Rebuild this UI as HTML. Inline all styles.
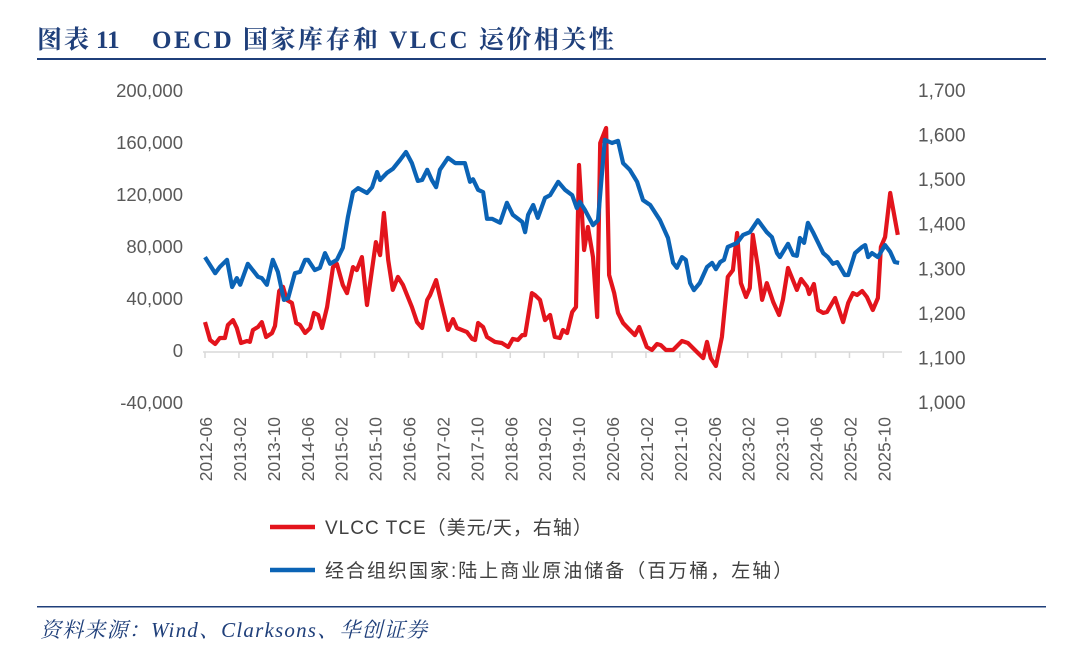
<!DOCTYPE html>
<html><head><meta charset="utf-8">
<style>
body{margin:0;background:#fff;width:1080px;height:658px;overflow:hidden;}
svg{display:block;}
</style></head>
<body>
<svg id="chart" width="1080" height="658" viewBox="0 0 1080 658">
<text y="48" font-family="'Liberation Serif','Noto Serif CJK SC',serif" font-weight="bold" font-size="25" fill="#1F3F7A"><tspan x="37" letter-spacing="2">图表</tspan><tspan x="96">11</tspan><tspan x="152" letter-spacing="2.5">OECD 国家库存和 VLCC 运价相关性</tspan></text>
<rect x="37" y="58" width="1009" height="2" fill="#1F3F7A"/>
<rect x="37" y="606" width="1009" height="1.5" fill="#1F3F7A"/>
<text x="40" y="637" font-family="'Liberation Serif','Noto Serif CJK SC',serif" font-style="italic" font-size="21" letter-spacing="1.2" fill="#1F3F7A">资料来源：Wind、Clarksons、华创证券</text>
<g id="axes"></g>
<g id="series"></g>
<g id="legend">
<line x1="270" y1="527" x2="315" y2="527" stroke="#E3141C" stroke-width="4.5"/>
<text x="325" y="534" font-family="'Liberation Sans','Noto Sans CJK SC',sans-serif" font-size="19" letter-spacing="1" fill="#404040">VLCC TCE（美元/天，右轴）</text>
<line x1="270" y1="570" x2="315" y2="570" stroke="#0B63B5" stroke-width="4.5"/>
<text x="325" y="577" font-family="'Liberation Sans','Noto Sans CJK SC',sans-serif" font-size="19" letter-spacing="2" fill="#404040">经合组织国家:陆上商业原油储备（百万桶，左轴）</text>
</g>
</svg>
<script>
const xTickLabels=["2012-06","2013-02","2013-10","2014-06","2015-02","2015-10","2016-06","2017-02","2017-10","2018-06","2019-02","2019-10","2020-06","2021-02","2021-10","2022-06","2023-02","2023-10","2024-06","2025-02","2025-10"];
const leftTicks=[200000,160000,120000,80000,40000,0,-40000];
const rightTicks=[1700,1600,1500,1400,1300,1200,1100,1000];
// months since 2012-06
const redMonths=[0,1.2,2.4,3.5,4.7,5.4,6.6,7.5,8.5,9.9,10.6,11.3,12.5,13.4,14.4,15.8,16.5,17.5,18.4,19.3,20.5,21.5,22.4,23.6,24.8,25.7,26.7,27.6,28.8,30.2,31.1,32.5,33.5,34.9,35.8,37,38.2,40.3,41.3,42.2,43.2,44.3,45.5,46.7,48.8,50,51.2,52.4,53.1,54.5,55.7,57.3,58.5,59.4,61.8,63,63.7,64.4,65.6,66.5,68.4,70,71.5,72.6,73.8,74.8,75.5,77.1,77.8,79,80.2,81.4,82.5,83.7,84.4,85.4,86.6,87.5,88.2,89.4,90.3,91.5,92.5,93.2,94.6,95.3,96.5,97.4,98.6,100.2,101.4,102.4,104.2,105.4,106.6,107.5,108.7,110.4,112.5,113.9,116,117.5,118.4,119.3,120.5,121.9,123.3,124.5,125.5,126.4,127.6,128.5,129.2,130.4,131.4,132.5,134,135.4,136.3,137.5,139.6,140.6,142,142.5,143.6,144.6,145.8,146.7,148.6,150.5,151.7,152.8,153.8,155,156.1,157.5,158.7,159.4,160.4,161.6,163.4];
const redValues=[21500,7700,4600,9200,9200,19200,23000,17000,5400,6900,6200,15400,17700,21500,10000,13000,18500,45400,48500,38500,36200,20800,19200,13100,16900,28500,26900,16900,33100,63800,66200,50000,43800,63800,61500,71500,34600,83000,73000,105400,69200,46200,56200,50000,33100,21500,16900,38500,42300,53800,36900,15400,23800,16900,13800,8500,7700,20800,17700,10000,6200,5400,2300,8500,7700,11500,11500,43800,42300,38500,23000,26900,10000,9200,15400,13100,29200,33100,142300,76900,94600,71500,25400,159200,170800,57700,43800,28500,20800,15400,11500,17700,2300,0,4600,3800,0,0,6900,5400,-1500,-6200,6200,-6200,-12300,10000,56200,61500,90000,51500,40800,47700,88500,63800,38500,51500,36900,26900,38500,63100,46200,54600,48500,43100,50800,30800,28500,29200,40000,21500,36200,43800,42300,45400,40800,30800,40000,79200,86900,120800,88500];
const blueMonths=[0,2.4,3.5,5.2,6.4,7.5,8.3,10.1,12.5,13.4,14.6,16,17.2,18.6,19.6,21.2,22.4,23.6,24.3,25.9,27.1,28.3,29.5,31.1,32.5,33.7,34.9,36.1,38.2,39.4,40.6,41.3,42.9,44.3,46,47.4,48.8,50.2,51.2,52.4,53.5,54.5,55.4,57.3,59,61.3,62.5,63.2,64.4,65.6,66.5,67.7,69.6,71.2,72.6,74.8,75.5,76.2,77.4,78.5,80.2,81.4,83.3,84.9,86.6,87.7,88.4,89.6,91.5,92.7,94.3,96,97.4,98.6,100.2,101.9,103.3,105,107.3,109.2,110.4,111.3,112.5,113.4,114.4,115.3,116.7,118.4,119.6,120.5,121.5,122.4,123.3,125.5,126.9,128.5,130.4,132.5,133.7,134.9,135.6,137.5,138.7,139.6,140.3,141.3,142.2,143.4,145.8,146.9,148.1,149.1,150.9,151.7,153.3,155,155.7,156.4,157.3,158.7,160.4,161.6,162.7,163.7];
const blueValues=[1325,1289,1303,1319,1258,1278,1263,1310,1281,1278,1263,1319,1292,1229,1233,1289,1292,1319,1319,1296,1301,1334,1310,1319,1346,1415,1471,1480,1469,1482,1516,1498,1514,1523,1543,1561,1536,1496,1498,1521,1498,1482,1521,1548,1536,1536,1494,1500,1476,1471,1411,1411,1402,1447,1420,1404,1381,1420,1442,1413,1458,1464,1494,1476,1464,1435,1449,1431,1397,1408,1588,1581,1586,1536,1521,1494,1453,1442,1408,1368,1312,1301,1325,1319,1267,1251,1267,1303,1312,1298,1314,1319,1348,1357,1375,1381,1408,1381,1370,1334,1325,1355,1330,1328,1368,1357,1402,1381,1334,1325,1310,1314,1285,1285,1334,1348,1352,1325,1334,1325,1352,1337,1314,1312];

const NS="http://www.w3.org/2000/svg";
const x0=205,pxPerMonth=4.24;
function xScale(m){return x0+m*pxPerMonth;}
function yLeft(v){return 350-(v/40000)*52;}
function yRight(v){return 402-(v-1000)*0.4457;}
const axes=document.getElementById('axes');
const series=document.getElementById('series');
function mk(tag,attrs,parent){const e=document.createElementNS(NS,tag);for(const k in attrs)e.setAttribute(k,attrs[k]);parent.appendChild(e);return e;}
const font="'Liberation Sans','Noto Sans CJK SC',sans-serif";
leftTicks.forEach(v=>{
  const t=mk('text',{x:183,y:yLeft(v)+7,'text-anchor':'end','font-family':font,'font-size':18.5,fill:'#595959'},axes);
  t.textContent=v.toLocaleString('en-US');
  
  
});
rightTicks.forEach(v=>{
  const t=mk('text',{x:918,y:yRight(v)+7,'font-family':font,'font-size':19,fill:'#595959'},axes);
  t.textContent=v.toLocaleString('en-US');
  
  
});
const axisLine=mk('line',{x1:203,y1:352,x2:902,y2:352,stroke:'#d9d9d9','stroke-width':1.5},axes);


xTickLabels.forEach((s,i)=>{
  const x=xScale(i*8);
  const tk=mk('line',{x1:x,y1:352,x2:x,y2:358,stroke:'#d9d9d9','stroke-width':1.5},axes);
  
  
  const t=mk('text',{x:0,y:0,'text-anchor':'end','font-family':font,'font-size':17.5,fill:'#595959',transform:`translate(${x+7},417) rotate(-90)`},axes);
  t.textContent=s;
  
  
});
function path(ms,vs,ys){return ms.map((m,i)=>(i?'L':'M')+xScale(m).toFixed(1)+','+ys(vs[i]).toFixed(1)).join(' ');}
const red=mk('path',{d:path(redMonths,redValues,yLeft),fill:'none',stroke:'#E3141C','stroke-width':4.2,'stroke-linejoin':'round'},series);


const blue=mk('path',{d:path(blueMonths,blueValues,yRight),fill:'none',stroke:'#0B63B5','stroke-width':4.2,'stroke-linejoin':'round'},series);


</script>
</body></html>
